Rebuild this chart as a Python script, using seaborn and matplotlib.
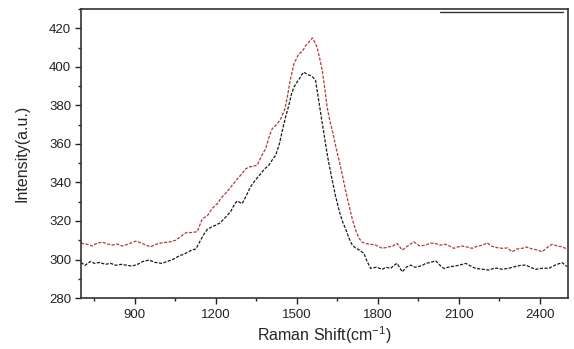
import matplotlib
matplotlib.use("Agg")
import matplotlib.pyplot as plt
from matplotlib.ticker import MultipleLocator
import seaborn as sns
import pandas as pd

red_x = [700, 720, 742, 760, 779, 800, 816, 835, 853, 875, 902, 925, 940, 958, 980, 1001, 1025, 1051, 1075, 1090,
         1112, 1131, 1149, 1170, 1186, 1205, 1223, 1240, 1260, 1280, 1297, 1310, 1322, 1340, 1353, 1370, 1384, 1400,
         1409, 1425, 1440, 1455, 1464, 1475, 1489, 1507, 1520, 1532, 1545, 1557, 1566, 1575, 1585, 1594, 1603, 1612,
         1622, 1631, 1645, 1656, 1668, 1680, 1693, 1705, 1718, 1730, 1742, 1754, 1770, 1791, 1816, 1841, 1855, 1871,
         1890, 1910, 1933, 1955, 1977, 1995, 2014, 2030, 2051, 2065, 2081, 2095, 2112, 2130, 2149, 2170, 2190, 2205,
         2220, 2236, 2260, 2280, 2297, 2315, 2334, 2350, 2371, 2390, 2408, 2425, 2445, 2465, 2482, 2500]
red_y = [308.5, 308, 307, 308.5, 309, 308, 307.5, 308, 307, 308, 309.5, 308.5, 307.5, 306.6, 308, 308.7, 309, 310,
         312.5, 314, 314, 314.5, 321, 323, 326.5, 329, 332.5, 335, 338.5, 342, 344.6, 347, 348, 348.5, 349, 354,
         357.6, 365, 368, 370, 373, 378, 384, 393, 401.6, 406.8, 408, 411, 413, 415, 413, 410, 404, 398, 389, 379,
         372, 367, 358, 351.5, 344, 336, 328, 321, 315, 311, 309, 308.3, 308, 307.5, 305.8, 306.6, 307, 308.3,
         304.9, 307, 309.2, 307, 307.5, 308.5, 308.3, 307.5, 307.9, 307, 305.8, 306.5, 307, 306.5, 305.8, 307,
         307.5, 308.7, 307, 306.3, 305.8, 306, 304, 305.5, 305.8, 306.5, 305.5, 305, 304, 306, 307.9, 307, 306.6,
         305.5]

black_x = [700, 715, 735, 750, 770, 790, 810, 830, 850, 870, 889, 910, 930, 952, 975, 1000, 1020, 1040, 1063, 1085,
           1112, 1126, 1143, 1155, 1168, 1185, 1199, 1215, 1236, 1255, 1270, 1279, 1297, 1312, 1328, 1345, 1366,
           1380, 1396, 1410, 1421, 1435, 1446, 1458, 1470, 1480, 1489, 1500, 1510, 1518, 1526, 1538, 1551, 1560,
           1569, 1578, 1588, 1597, 1606, 1618, 1631, 1643, 1656, 1668, 1680, 1693, 1705, 1717, 1730, 1748, 1760,
           1773, 1795, 1816, 1830, 1847, 1860, 1871, 1890, 1905, 1921, 1937, 1952, 1965, 1977, 1995, 2014, 2030,
           2044, 2060, 2075, 2100, 2125, 2145, 2162, 2185, 2211, 2230, 2248, 2260, 2285, 2310, 2330, 2347, 2365,
           2384, 2410, 2433, 2455, 2482, 2500]
black_y = [298.5, 297, 299, 298, 298.5, 297.5, 298, 297, 297.5, 297, 296.6, 297.5, 299, 299.7, 298.5, 298, 299, 300,
           301.8, 303, 305, 305.5, 310, 313, 315.6, 317, 317.8, 319, 322, 325, 329, 330.4, 329, 333, 337.7, 341,
           344.6, 347, 349, 352, 354, 360, 367, 374, 380, 386, 389.5, 392, 394, 396, 397.3, 396, 395.5, 394.5, 393,
           385, 376, 368, 360, 350, 341, 333, 325.6, 320, 316, 311, 307.5, 306, 305, 303.2, 299, 295.4, 296, 294.9,
           296, 295.4, 297, 298, 293.6, 296, 297.1, 296, 296.4, 297, 298, 298.5, 299.3, 297, 295.4, 296, 296.4, 297,
           298, 296.5, 295.4, 295, 294.5, 295.5, 295.4, 294.9, 295.5, 296.4, 297, 297.1, 296, 294.9, 295.5, 295.4,
           297, 298.4, 296.4]

sns.set_theme(style="white")
plt.rcParams['font.family'] = ['Liberation Sans', 'DejaVu Sans']
plt.rcParams['mathtext.fontset'] = 'custom'
plt.rcParams['mathtext.rm'] = 'Liberation Sans'

fig = plt.figure(figsize=(5.74, 3.49), dpi=100)
ax = fig.add_axes([0.141, 0.146, 0.849, 0.828])

df_red = pd.DataFrame({"x": red_x, "y": red_y})
df_black = pd.DataFrame({"x": black_x, "y": black_y})
sns.lineplot(data=df_red, x="x", y="y", ax=ax, color="#b23a3a", lw=0.9,
             linestyle=(0, (2.5, 1.2)), sort=False)
sns.lineplot(data=df_black, x="x", y="y", ax=ax, color="#1a1a1a", lw=0.9,
             linestyle=(0, (2.5, 1.2)), sort=False)

ax.set_xlim(700, 2505)
ax.set_ylim(280, 430)
ax.xaxis.set_minor_locator(MultipleLocator(150))
ax.yaxis.set_major_locator(MultipleLocator(20))
ax.yaxis.set_minor_locator(MultipleLocator(10))
ax.set_xticks([900, 1200, 1500, 1800, 2100, 2400])
ax.tick_params(which="major", direction="out", length=4, width=1, colors="#222222",
               labelsize=9.5, bottom=True, left=True, pad=3)
ax.tick_params(which="minor", direction="out", length=2.5, width=1, colors="#222222",
               bottom=True, left=True)
ax.tick_params(axis="x", which="major", pad=4)
for s in ax.spines.values():
    s.set_color("#333333")
    s.set_linewidth(1.2)

ax.set_xlabel(r"Raman Shift(cm$^{\mathrm{-1}}$)", fontsize=11.5, labelpad=2)
ax.set_ylabel("Intensity(a.u.)", fontsize=11.5, labelpad=14)

ax.plot([0.737, 0.99], [0.99, 0.99], transform=ax.transAxes, color="#333333", lw=1.0)

fig.savefig("out.png", dpi=100)
